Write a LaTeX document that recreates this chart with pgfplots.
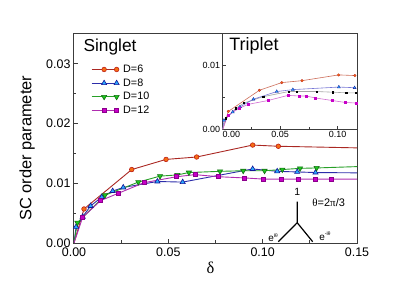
\documentclass[border=0pt]{standalone}
\usepackage{pgfplots}
\pgfplotsset{compat=1.18}
\usepackage{fontspec}
\setmainfont{Liberation Sans}
\newfontfamily\serifgreek{Liberation Serif}
\definecolor{l6}{RGB}{170,40,35}
\definecolor{f6}{RGB}{245,110,20}
\definecolor{e6}{RGB}{190,30,20}
\definecolor{l8}{RGB}{45,45,170}
\definecolor{f8}{RGB}{40,170,255}
\definecolor{e8}{RGB}{20,20,150}
\definecolor{l10}{RGB}{40,160,40}
\definecolor{f10}{RGB}{30,200,30}
\definecolor{e10}{RGB}{20,110,20}
\definecolor{l12}{RGB}{175,45,175}
\definecolor{f12}{RGB}{200,0,200}
\definecolor{e12}{RGB}{140,0,140}
\definecolor{il6}{RGB}{205,110,90}
\definecolor{il8}{RGB}{120,120,215}
\definecolor{il12}{RGB}{210,110,210}
\definecolor{axc}{RGB}{60,60,60}

\pgfplotstableread{
x y
0 0
0.0053 0.0057
0.0306 0.0123
0.0488 0.0140
0.0650 0.0144
0.0947 0.0164
0.1083 0.0162
0.1700 0.0158
}\dsix
\pgfplotstableread{
x y
0 0
0.0011 0.0027
0.0046 0.0044
0.0088 0.0062
0.0147 0.0077
0.0205 0.0087
0.0261 0.0093
0.0442 0.0103
0.0576 0.0102
0.0947 0.0124
0.1077 0.0120
0.1183 0.0119
0.1280 0.0118
0.1700 0.0117
}\deight
\pgfplotstableread{
x y
0 0
0.0018 0.0034
0.0164 0.0080
0.0341 0.0102
0.0456 0.0112
0.0548 0.0114
0.0609 0.0118
0.0774 0.0120
0.0897 0.0121
0.1010 0.0121
0.1104 0.0123
0.1198 0.0125
0.1286 0.01257
0.1700 0.0130
}\dten
\pgfplotstableread{
x y
0 0
0.0046 0.0043
0.0141 0.0071
0.0233 0.0083
0.0371 0.0101
0.0544 0.0111
0.0641 0.01145
0.0765 0.0111
0.0901 0.0109
0.1005 0.0107
0.1100 0.0107
0.1188 0.0107
0.1277 0.0107
0.1366 0.0107
0.1700 0.0107
}\dtwelve

\pgfplotstableread{
x y
0 0
0.0049 0.0028
0.0319 0.0061
0.0514 0.0073
0.0690 0.0076
0.1008 0.0085
0.1150 0.0084
}\tsix
\pgfplotstableread{
x y
0 0
0.0011 0.0014
0.0087 0.0027
0.0150 0.0035
0.0267 0.0047
0.0470 0.0059
0.0610 0.0062
0.1010 0.0066
0.1147 0.0065
}\teight
\pgfplotstableread{
x y
0 0
0.0029 0.0017
0.0115 0.0033
0.0185 0.0041
0.0352 0.0051
0.0575 0.0059
0.0645 0.0059
0.0818 0.0059
0.0957 0.0058
0.1076 0.0057
0.1156 0.0057
}\tten
\pgfplotstableread{
x y
0 0
0.0046 0.0022
0.0145 0.0033
0.0222 0.0039
0.0395 0.0045
0.0568 0.0053
0.0669 0.0052
0.0727 0.0052
0.0805 0.0049
0.0952 0.0045
0.1064 0.0042
0.1160 0.0041
}\ttwelve

\begin{document}
\begin{tikzpicture}
\useasboundingbox (-74bp,-49bp) rectangle (341bp,243bp);
\begin{axis}[
  at={(0,0)}, anchor=south west, scale only axis,
  width=283bp, height=209bp,
  xmin=0, xmax=0.15, ymin=0, ymax=0.035,
  xtick={0,0.05,0.1,0.15}, ytick={0,0.01,0.02,0.03},
  minor xtick={0.025,0.075,0.125}, minor ytick={0.005,0.015,0.025},
  tick align=inside, tick pos=left,
  major tick length=4bp, minor tick length=2.5bp,
  scaled ticks=false,
  /pgf/number format/assume math mode=true,
  /pgf/number format/.cd, fixed, fixed zerofill, precision=2, /pgfplots/.cd,
  ticklabel style={font=\fontsize{12.5}{14}\selectfont},
  xticklabel style={yshift=-1.5bp},
  axis line style={line width=1bp, draw=axc},
  every tick/.style={axc, line width=0.8bp},
  xlabel={\serifgreek δ},
  xlabel style={at={(axis description cs:0.482,-0.117)}, anchor=center, font=\fontsize{16.5}{18}\selectfont},
  ylabel={SC order parameter},
  ylabel style={at={(axis description cs:-0.166,0.453)}, anchor=center, font=\fontsize{16.5}{18}\selectfont},
  legend style={at={(axis description cs:0.060,0.860)}, anchor=north west, draw=none, fill=none,
    inner sep=0pt, font=\fontsize{10.8}{12}\selectfont, row sep=1.7bp,
    nodes={inner sep=1bp, text height=8bp, text depth=2bp},
    /tikz/every odd column/.append style={column sep=3bp}},
  legend cell align=left,
  legend image code/.code={\draw[mark repeat=2,mark phase=2,#1] plot coordinates {(0bp,0bp) (12.5bp,0bp) (25bp,0bp)};},
]
\addplot[l6, line width=0.9bp, mark=*, mark size=2.3bp, mark options={fill=f6, draw=e6, line width=0.6bp}, mark indices={2,3,4,5,6,7}] table {\dsix};
\addlegendentry{D=6}
\addplot[l8, line width=0.9bp, mark=triangle*, mark size=3bp, mark options={fill=f8, draw=e8, line width=0.6bp}, mark indices={2,3,4,5,6,7,8,9,10,11,12,13}] table {\deight};
\addlegendentry{D=8}
\addplot[l10, line width=0.9bp, mark=triangle*, mark size=3bp, mark options={fill=f10, draw=e10, line width=0.6bp, rotate=180}, mark indices={2,3,4,5,6,7,8,9,10,11,12,13}] table {\dten};
\addlegendentry{D=10}
\addplot[l12, line width=0.9bp, mark=square*, mark size=2bp, mark options={fill=f12, draw=e12, line width=0.5bp}, mark indices={2,3,4,5,6,7,8,9,10,11,12,13,14}] table {\dtwelve};
\addlegendentry{D=12}
\node[anchor=north west, inner sep=0pt, font=\fontsize{17.4}{19}\selectfont] at (axis description cs:0.033,0.975) {Singlet};
\draw[line width=1.2bp] (axis cs:0.1183,0.00692) -- (axis cs:0.1183,0.0034) -- (axis cs:0.1083,0.00022);
\draw[line width=1.2bp] (axis cs:0.1183,0.0034) -- (axis cs:0.1265,0.00022);
\node[font=\fontsize{10.5}{12}\selectfont, inner sep=0pt] at (axis cs:0.1183,0.00863) {1};
\node[font=\fontsize{11}{12}\selectfont, inner sep=0pt] at (axis cs:0.135,0.00679) {{\serifgreek θ}=2{\serifgreek π}/3};
\node[font=\fontsize{10}{12}\selectfont, inner sep=0pt] at (axis cs:0.1055,0.00090) {e\raisebox{0.9ex}{\fontsize{5.5}{6}\selectfont i{\serifgreek θ}}};
\node[font=\fontsize{10}{12}\selectfont, inner sep=0pt] at (axis cs:0.1330,0.00120) {e\raisebox{0.9ex}{\fontsize{5.5}{6}\selectfont -i{\serifgreek θ}}};
\end{axis}
\begin{axis}[
  at={(148.7bp,113.7bp)}, anchor=south west, scale only axis,
  width=134.3bp, height=95.6bp,
  xmin=0, xmax=0.1168, ymin=0, ymax=0.01494,
  axis background/.style={fill=white},
  xtick={0,0.05,0.1}, ytick={0,0.01},
  xticklabels={\makebox[0pt][l]{0.00},0.05,0.10},
  minor xtick={0.025,0.075}, minor ytick={0.005},
  tick align=inside, tick pos=left,
  major tick length=3bp, minor tick length=2bp,
  scaled ticks=false,
  /pgf/number format/assume math mode=true,
  /pgf/number format/.cd, fixed, fixed zerofill, precision=2, /pgfplots/.cd,
  ticklabel style={font=\fontsize{9}{10}\selectfont},
  xticklabel style={yshift=1.5bp},
  yticklabel style={xshift=1bp},
  axis line style={line width=1bp, draw=axc},
  every tick/.style={axc, line width=0.7bp},
]
\addplot[il6, line width=0.6bp, mark=*, mark size=1.3bp, mark options={fill=f6, draw=e6, line width=0.3bp}, mark indices={2,3,4,5,6,7}] table {\tsix};
\addplot[black!35, line width=0.6bp, mark=square*, mark size=0.65bp, mark options={fill=black, draw=black}, mark indices={2,3,4,5,6,7,8,9,10,11}] table {\tten};
\addplot[il8, line width=0.6bp, mark=triangle*, mark size=1.8bp, mark options={fill=f8, draw=e8, line width=0.3bp}, mark indices={2,3,4,5,6,7,8,9}] table {\teight};
\addplot[il12, line width=0.6bp, mark=square*, mark size=1.1bp, mark options={fill=f12, draw=f12}, mark indices={2,3,4,5,6,7,8,9,10,11,12}] table {\ttwelve};
\node[anchor=north west, inner sep=0pt, font=\fontsize{18}{19}\selectfont] at (axis description cs:0.048,0.962) {Triplet};
\end{axis}
\end{tikzpicture}
\end{document}
